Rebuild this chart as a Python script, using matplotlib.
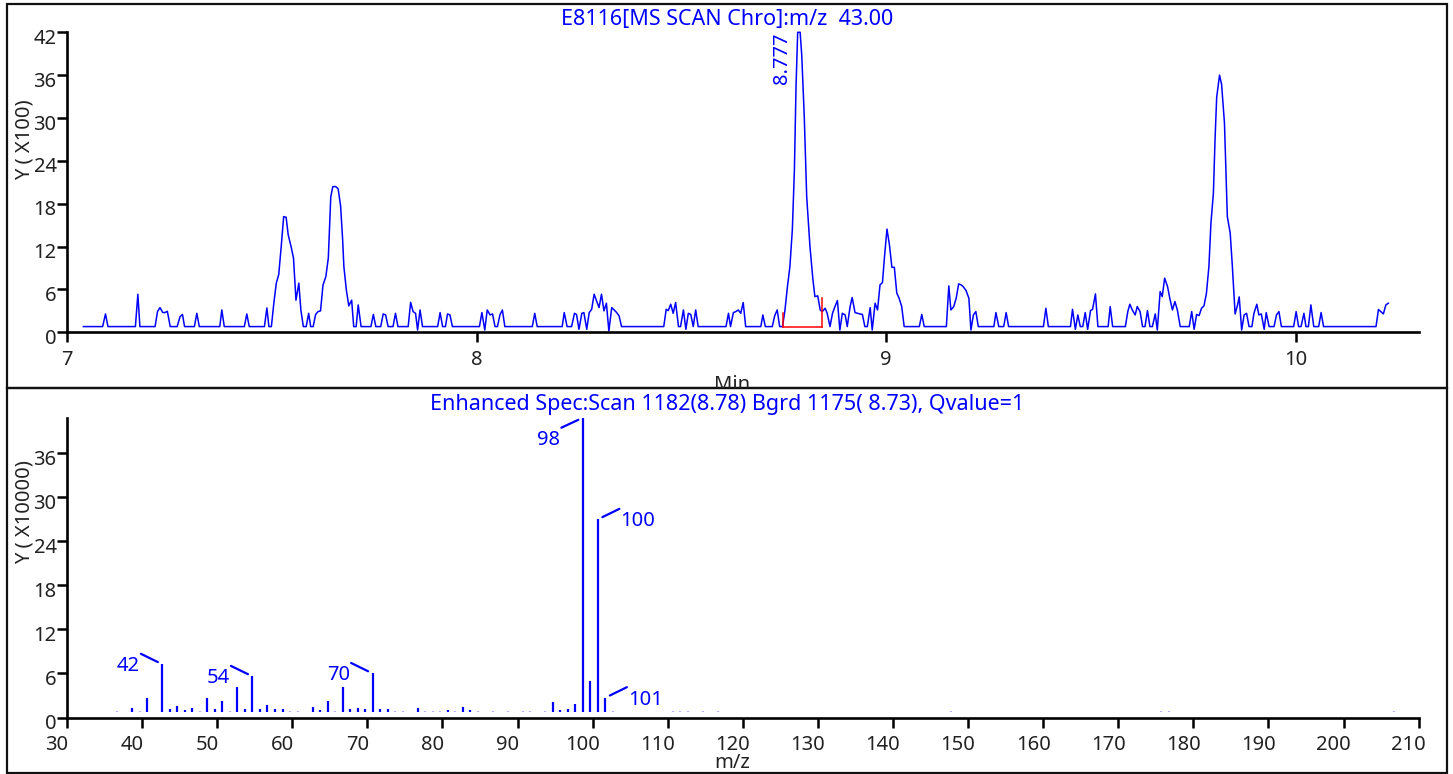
import matplotlib
matplotlib.use('Agg')
import matplotlib.pyplot as plt
from matplotlib.patches import Rectangle
from matplotlib.transforms import ScaledTranslation

plt.rcParams['font.family'] = ['Noto Sans', 'DejaVu Sans']

BLUE = '#0000ff'
TXT = '#222222'

# --- chromatogram, m/z 43 (Y x100), (minutes, counts) vertices
chrom = [
    (7.040, 0.8), (7.087, 0.8), (7.094, 2.57), (7.100, 0.8), (7.167, 0.8), (7.173, 5.33), (7.178, 0.8),
    (7.215, 0.8), (7.221, 2.9), (7.227, 3.46), (7.234, 2.76), (7.239, 2.76), (7.245, 2.94), (7.252, 0.8),
    (7.269, 0.8), (7.276, 2.2), (7.282, 2.5), (7.287, 0.8), (7.311, 0.8), (7.317, 2.66), (7.323, 0.8),
    (7.373, 0.8), (7.378, 3.13), (7.384, 0.8), (7.433, 0.8), (7.439, 2.57), (7.445, 0.8), (7.482, 0.8),
    (7.488, 3.41), (7.493, 0.8), (7.499, 0.8), (7.505, 4.07), (7.511, 6.88), (7.517, 8.1), (7.523, 12.0),
    (7.529, 16.2), (7.535, 16.1), (7.540, 13.67), (7.547, 12.03), (7.553, 10.4), (7.559, 4.5), (7.566, 6.88),
    (7.571, 3.13), (7.577, 0.8), (7.584, 0.8), (7.590, 2.66), (7.595, 0.8), (7.601, 0.8), (7.607, 2.5),
    (7.613, 2.9), (7.619, 3.0), (7.625, 6.6), (7.632, 7.8), (7.638, 10.4), (7.644, 18.95), (7.649, 20.4),
    (7.656, 20.4), (7.662, 20.1), (7.668, 17.7), (7.673, 12.96), (7.676, 9.2), (7.682, 5.94), (7.688, 3.7),
    (7.692, 4.17), (7.695, 4.5), (7.700, 0.8), (7.706, 0.8), (7.711, 3.83), (7.718, 0.8), (7.742, 0.8),
    (7.748, 2.5), (7.754, 0.8), (7.766, 0.8), (7.772, 2.57), (7.778, 2.43), (7.784, 0.8), (7.796, 0.8),
    (7.802, 2.66), (7.808, 0.8), (7.833, 0.8), (7.839, 4.2), (7.845, 2.9), (7.851, 2.66), (7.856, 0.32),
    (7.862, 3.13), (7.868, 0.8), (7.905, 0.8), (7.911, 2.76), (7.917, 0.8), (7.924, 0.8), (7.929, 2.57),
    (7.935, 2.43), (7.941, 0.8), (8.007, 0.8), (8.013, 2.76), (8.020, 0.32), (8.026, 3.13), (8.033, 2.43),
    (8.039, 2.57), (8.045, 0.8), (8.051, 0.8), (8.057, 2.43), (8.063, 3.13), (8.069, 0.8), (8.136, 0.8),
    (8.142, 2.66), (8.148, 0.8), (8.209, 0.8), (8.214, 2.76), (8.221, 0.8), (8.232, 0.8), (8.239, 2.66),
    (8.244, 2.5), (8.250, 0.42), (8.257, 2.66), (8.262, 2.76), (8.269, 0.42), (8.275, 2.76), (8.281, 3.22),
    (8.287, 5.33), (8.293, 4.4), (8.299, 3.46), (8.305, 5.33), (8.311, 3.0), (8.317, 4.07), (8.323, 0.18),
    (8.330, 3.46), (8.336, 3.13), (8.342, 2.76), (8.348, 2.29), (8.354, 0.8), (8.457, 0.8), (8.463, 3.22),
    (8.468, 3.04), (8.474, 3.93), (8.480, 2.66), (8.486, 4.17), (8.493, 0.8), (8.498, 0.8), (8.505, 3.13),
    (8.511, 0.42), (8.517, 2.66), (8.523, 2.5), (8.529, 0.8), (8.535, 3.13), (8.541, 0.8), (8.609, 0.8),
    (8.615, 2.66), (8.620, 0.8), (8.627, 2.76), (8.633, 2.9), (8.639, 3.13), (8.645, 2.66), (8.651, 4.17),
    (8.657, 0.8), (8.694, 0.8), (8.699, 2.43), (8.705, 0.8), (8.722, 0.8), (8.728, 2.34), (8.734, 3.13),
    (8.740, 0.8), (8.747, 0.8), (8.753, 3.13), (8.759, 6.4), (8.765, 9.2), (8.771, 14.4), (8.776, 22.8),
    (8.780, 34.5), (8.784, 42.0), (8.790, 42.0), (8.794, 38.7), (8.800, 30.3), (8.806, 19.0), (8.814, 12.0),
    (8.821, 7.5), (8.826, 5.0), (8.833, 5.1), (8.839, 3.13), (8.844, 2.9), (8.851, 3.37), (8.856, 2.66),
    (8.863, 0.8), (8.869, 2.66), (8.875, 3.6), (8.881, 4.45), (8.887, 0.32), (8.893, 2.66), (8.900, 2.43),
    (8.905, 0.8), (8.912, 3.6), (8.917, 4.87), (8.924, 2.76), (8.930, 2.66), (8.936, 2.57), (8.942, 2.5),
    (8.948, 0.8), (8.954, 0.8), (8.961, 3.46), (8.966, 0.32), (8.973, 4.07), (8.979, 3.13), (8.985, 6.64),
    (8.991, 6.97), (8.996, 10.6), (9.002, 14.45), (9.008, 12.26), (9.014, 9.1), (9.020, 9.1), (9.026, 5.47),
    (9.031, 4.87), (9.038, 3.6), (9.044, 0.8), (9.081, 0.8), (9.087, 2.5), (9.093, 0.8), (9.147, 0.8),
    (9.153, 6.5), (9.158, 3.13), (9.165, 3.6), (9.171, 4.77), (9.177, 6.78), (9.183, 6.64), (9.188, 6.4),
    (9.195, 5.85), (9.202, 4.77), (9.207, 0.32), (9.213, 2.43), (9.219, 2.9), (9.225, 0.8), (9.263, 0.8),
    (9.268, 2.76), (9.275, 0.8), (9.287, 0.8), (9.293, 2.76), (9.299, 0.8), (9.384, 0.8), (9.390, 3.37),
    (9.396, 0.8), (9.450, 0.8), (9.455, 3.22), (9.462, 0.42), (9.468, 2.43), (9.474, 0.8), (9.480, 0.8),
    (9.486, 2.76), (9.492, 0.42), (9.499, 3.04), (9.504, 3.22), (9.511, 5.38), (9.517, 0.8), (9.542, 0.8),
    (9.547, 3.6), (9.553, 0.8), (9.584, 0.8), (9.590, 2.9), (9.595, 3.93), (9.601, 3.13), (9.608, 2.43),
    (9.613, 3.6), (9.620, 2.9), (9.626, 0.8), (9.632, 0.8), (9.638, 3.04), (9.644, 0.8), (9.650, 0.8),
    (9.657, 2.57), (9.662, 0.32), (9.669, 5.7), (9.674, 5.0), (9.680, 7.58), (9.687, 6.4), (9.693, 4.63),
    (9.699, 3.13), (9.705, 4.3), (9.711, 3.13), (9.718, 0.8), (9.740, 0.8), (9.746, 2.9), (9.752, 0.42),
    (9.758, 2.5), (9.764, 2.34), (9.770, 3.37), (9.776, 3.7), (9.782, 5.47), (9.788, 9.2), (9.793, 15.3),
    (9.799, 19.5), (9.803, 27.0), (9.807, 32.9), (9.814, 36.0), (9.819, 34.7), (9.826, 29.3), (9.833, 16.2),
    (9.840, 13.9), (9.845, 9.5), (9.852, 2.57), (9.858, 3.83), (9.862, 4.96), (9.868, 0.32), (9.874, 2.43),
    (9.880, 2.66), (9.886, 0.8), (9.893, 0.8), (9.898, 2.66), (9.905, 3.93), (9.910, 2.43), (9.916, 2.57),
    (9.923, 0.42), (9.928, 2.76), (9.935, 0.8), (9.947, 0.8), (9.953, 2.43), (9.959, 2.9), (9.965, 0.8),
    (9.995, 0.8), (10.001, 2.9), (10.007, 0.8), (10.013, 0.8), (10.020, 2.66), (10.025, 0.8), (10.031, 0.8),
    (10.037, 3.83), (10.044, 0.8), (10.056, 0.8), (10.062, 2.76), (10.068, 0.8), (10.196, 0.8),
    (10.202, 3.2), (10.214, 2.57), (10.220, 3.83), (10.226, 4.07),
]
rt_min = [p[0] for p in chrom]
abund = [p[1] for p in chrom]

# integration marks for the 8.777 peak
peak_rt = 8.777
integ_rt = [8.747, 8.844]
integ_base = 0.79
integ_ticks = [2.75, 4.86]

# --- mass spectrum (Y x10000)
mz = [36, 38, 39, 40, 42, 43, 44, 45, 46, 47, 48, 49, 50, 51, 52, 53, 54, 55, 56, 57,
      58, 59, 60, 62, 63, 64, 65, 66, 67, 68, 69, 70, 71, 72, 73, 74, 76, 77, 78, 79,
      80, 81, 82, 83, 84, 86, 88, 90, 91, 93, 94, 95, 96, 97, 98, 99, 100, 101, 102, 110,
      111, 112, 114, 116, 147, 175, 176, 206]
intensity = [0.9, 1.33, 0.9, 2.6, 7.25, 1.15, 1.6, 1.0, 1.33, 0.9, 2.7, 1.2, 2.2, 0.9, 4.1, 1.1, 5.6, 1.2, 1.7, 1.1,
             1.2, 0.9, 0.9, 1.4, 1.0, 2.3, 0.9, 4.1, 1.1, 1.33, 1.2, 6.0, 1.2, 1.1, 0.9, 0.9, 1.35, 0.9, 0.95, 0.9,
             1.0, 0.9, 1.4, 1.0, 0.9, 0.9, 0.9, 0.9, 0.9, 0.9, 2.06, 1.0, 1.1, 1.8, 40.85, 5.0, 27.0, 2.7, 0.9, 0.9,
             0.9, 0.9, 0.9, 0.9, 0.9, 0.9, 0.9, 0.9]
label_mz = [42, 54, 70, 98, 100, 101]
label_side = ['left', 'left', 'left', 'left', 'right', 'right']

top_ticks = [0, 6, 12, 18, 24, 30, 36, 42]
bot_ticks = [0, 6, 12, 18, 24, 30, 36]

top_title = 'E8116[MS SCAN Chro]:m/z  43.00'
bot_title = 'Enhanced Spec:Scan 1182(8.78) Bgrd 1175( 8.73), Qvalue=1'

MZ_SHIFT = 0.7     # sticks are drawn a bit right of the nominal mass
BAR_FLOOR = 0.75

W, H = 1453, 774


def px_rect(x0, y0, x1, y1):
    return [x0 / W, 1 - y1 / H, (x1 - x0) / W, (y1 - y0) / H]


def style_axes(ax):
    for s in ('top', 'right'):
        ax.spines[s].set_visible(False)
    for s in ('left', 'bottom'):
        ax.spines[s].set_linewidth(1.9)
        ax.spines[s].set_color('black')
    ax.tick_params(direction='out', length=7.5, width=1.8, labelsize=14.5,
                   colors='black', labelcolor=TXT)
    ax.tick_params(axis='y', pad=0)
    ax.tick_params(axis='x', pad=5)
    ax.patch.set_alpha(0)


fig = plt.figure(figsize=(W / 100, H / 100), dpi=100)

frame_top = Rectangle((6.5 / W, 1 - 388 / H), 1440.2 / W, 384 / H, transform=fig.transFigure,
                      fill=False, lw=1.6, ec='#111111')
frame_bot = Rectangle((6.5 / W, 1 - 772.7 / H), 1440.2 / W, 384.7 / H, transform=fig.transFigure,
                      fill=False, lw=1.6, ec='#111111')
fig.add_artist(frame_top)
fig.add_artist(frame_bot)

# ---------------- chromatogram
ax1 = fig.add_axes(px_rect(67, 32.3, 1418.6, 332.3))
ax1.plot(rt_min, abund, color=BLUE, lw=1.1, clip_on=False)
ax1.plot(integ_rt, [integ_base, integ_base], color='red', lw=1.1)
for t, h in zip(integ_rt, integ_ticks):
    ax1.plot([t, t], [integ_base, h], color='red', lw=1.1)
ax1.annotate(f'{peak_rt:.3f}', xy=(peak_rt, 42), xytext=(-3, 0), textcoords='offset pixels',
             rotation=90, ha='right', va='top', color=BLUE, fontsize=14.5)
ax1.set_xlim(7, 10.30)
ax1.set_ylim(0, 42)
ax1.set_xticks([7, 8, 9, 10])
ax1.set_yticks(top_ticks)
style_axes(ax1)

# ---------------- spectrum
ax2 = fig.add_axes(px_rect(67, 417.7, 1418.6, 717.5))
pos = [m + MZ_SHIFT for m in mz]
cols = [BLUE if v > 0.97 else '#b4b4ff' for v in intensity]
ax2.vlines(pos, BAR_FLOOR, intensity, colors=cols, lw=1.6, clip_on=False)
for m, side in zip(label_mz, label_side):
    i = mz.index(m)
    x, y = pos[i], intensity[i]
    dx = -21.5 if side == 'left' else 21.5
    dy = -10 if y > 38 else 10.5
    ax2.annotate('', xy=(x, y), xytext=(dx, dy), textcoords='offset pixels',
                 arrowprops=dict(arrowstyle='-', color=BLUE, lw=1.6, shrinkA=0, shrinkB=3.6))
    ax2.annotate(str(m), xy=(x, y), xytext=(dx - (1 if side == 'left' else -1), dy - 12.5),
                 textcoords='offset pixels', ha='right' if side == 'left' else 'left',
                 va='center', color=BLUE, fontsize=14.5)
ax2.set_xlim(30, 210)
ax2.set_ylim(0, 40.85)
ax2.set_xticks(range(30, 211, 10))
ax2.set_yticks(bot_ticks)
style_axes(ax2)

# nudge tick labels the way the instrument software draws them
down = ScaledTranslation(0, -4 / 100, fig.dpi_scale_trans)
for ax in (ax1, ax2):
    for lab in ax.get_yticklabels():
        lab.set_transform(lab.get_transform() + down)
left = ScaledTranslation(-10 / 100, 0, fig.dpi_scale_trans)
for lab in ax2.get_xticklabels():
    lab.set_transform(lab.get_transform() + left)

# titles and axis captions
fig.text(727 / W, 1 - 20 / H, top_title, ha='center', va='center', color=BLUE, fontsize=15.5)
fig.text(727 / W, 1 - 404.3 / H, bot_title, ha='center', va='center', color=BLUE, fontsize=15.5)
fig.text(25 / W, 1 - 140 / H, 'Y ( X100)', rotation=90, ha='center', va='center', color=TXT, fontsize=14.5)
fig.text(25 / W, 1 - 512.5 / H, 'Y ( X10000)', rotation=90, ha='center', va='center', color=TXT, fontsize=14.5)
t_min = fig.text(731.7 / W, 1 - 390 / H, 'Min', ha='center', va='baseline', color=TXT, fontsize=14.5)
t_min.set_clip_path(frame_top)
fig.text(731.7 / W, 1 - 768 / H, 'm/z', ha='center', va='baseline', color=TXT, fontsize=14.5)

fig.savefig('out.png', dpi=100)
